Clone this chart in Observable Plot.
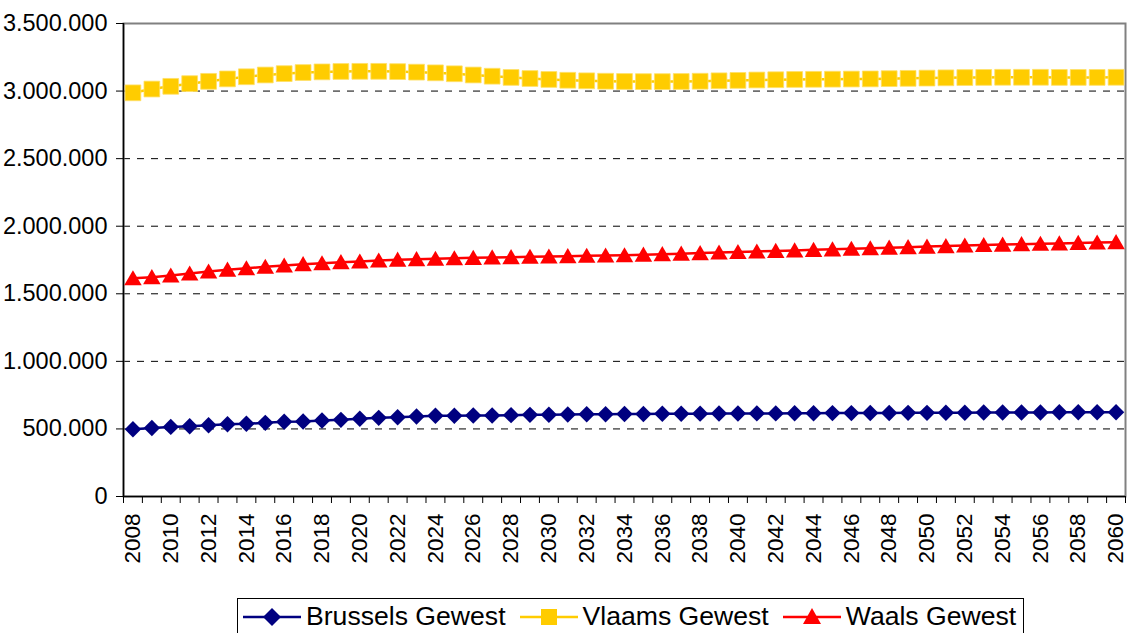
<!DOCTYPE html>
<html><head><meta charset="utf-8">
<script src="https://cdn.jsdelivr.net/npm/d3@7"></script>
<script src="https://cdn.jsdelivr.net/npm/@observablehq/plot@0.6"></script>
<style>
body{margin:0;background:#fff;font-family:"Liberation Sans",Arial,sans-serif;}
#wrap{position:relative;width:1127px;height:633px;overflow:hidden;background:#fff;}
#legend{position:absolute;left:237px;top:598px;width:787px;height:37px;border:1px solid #000;box-sizing:border-box;display:flex;align-items:center;padding-left:5px;font-size:26.6px;color:#000;background:#fff;}
.item{display:flex;align-items:center;margin-right:14px;white-space:nowrap;}
.item svg{margin-right:5px;}
</style></head>
<body><div id="wrap"><div id="chart"></div><div id="legend"></div></div>
<script>
const years = [2008,2009,2010,2011,2012,2013,2014,2015,2016,2017,2018,2019,2020,2021,2022,2023,2024,2025,2026,2027,2028,2029,2030,2031,2032,2033,2034,2035,2036,2037,2038,2039,2040,2041,2042,2043,2044,2045,2046,2047,2048,2049,2050,2051,2052,2053,2054,2055,2056,2057,2058,2059,2060];
const brussels = [497000,507000,515000,520000,527000,535000,538000,545000,553000,555000,562000,567000,575000,582000,587000,592000,597000,597000,599000,600000,602000,604000,605000,607000,608000,609000,611000,611000,612000,612000,613000,614000,614000,615000,615000,616000,616000,617000,617000,618000,618000,619000,619000,620000,620000,621000,621000,622000,622000,623000,623000,624000,624000];
const vlaams = [2987000,3015000,3035000,3055000,3072000,3090000,3106000,3119000,3129000,3137000,3142000,3145000,3146000,3146000,3144000,3140000,3135000,3128000,3119000,3110000,3101000,3093000,3086000,3080000,3076000,3073000,3071000,3070000,3070000,3071000,3073000,3076000,3079000,3082000,3084000,3086000,3087000,3088000,3089000,3090000,3092000,3094000,3096000,3098000,3100000,3101000,3102000,3102000,3102000,3101000,3101000,3101000,3102000];
const waals = [1615000,1623000,1635000,1650000,1665000,1678000,1689000,1700000,1709000,1719000,1726000,1734000,1739000,1746000,1752000,1756000,1759000,1763000,1766000,1769000,1771000,1774000,1776000,1778000,1781000,1783000,1785000,1789000,1793000,1797000,1801000,1805000,1809000,1813000,1817000,1821000,1825000,1829000,1833000,1837000,1841000,1845000,1849000,1853000,1857000,1861000,1864000,1867000,1870000,1873000,1876000,1879000,1882000];
const seriesNames = ["Brussels Gewest","Vlaams Gewest","Waals Gewest"];
const seriesColors = ["#000080","#FFCC00","#FF0000"];
const yTicks = [0,500000,1000000,1500000,2000000,2500000,3000000,3500000];

const fmt = d3.formatLocale({decimal:",",thousands:".",grouping:[3],currency:["€",""]}).format(",d");
const seriesValues = [brussels, vlaams, waals];
const rows = [];
seriesNames.forEach((s, k) => years.forEach((y, i) => rows.push({year: y, series: s, value: seriesValues[k][i]})));
const xMin = years[0] - 0.5, xMax = years[years.length - 1] + 0.5;
const boundaries = years.map(y => y - 0.5).concat([xMax]);
const labelYears = years.filter(y => y % 2 === 0);
const gridValues = yTicks.filter(v => v > 0 && v < yTicks[yTicks.length - 1]);
const of = s => rows.filter(d => d.series === s);

const chart = Plot.plot({
  width: 1127, height: 590,
  marginLeft: 123, marginRight: 2, marginTop: 23, marginBottom: 94,
  style: {fontFamily: "'Liberation Sans', Arial, sans-serif", fontSize: "23px", color: "#000", background: "#fff", overflow: "visible"},
  x: {type: "linear", domain: [xMin, xMax]},
  y: {domain: [0, yTicks[yTicks.length - 1]]},
  color: {domain: seriesNames, range: seriesColors},
  marks: [
    Plot.gridY(gridValues, {stroke: "#000", strokeOpacity: 1, strokeDasharray: "7,7"}),
    Plot.frame({stroke: "#808080", strokeWidth: 2}),
    Plot.ruleX([xMin], {stroke: "#000", strokeWidth: 1.5}),
    Plot.ruleY([0], {stroke: "#000", strokeWidth: 1.5}),
    Plot.axisY(yTicks, {tickSize: 7, tickPadding: 9, tickFormat: fmt, fontSize: 23.5, label: null}),
    Plot.axisX(boundaries, {tickSize: 7, tickFormat: () => "", label: null}),
    Plot.axisX(labelYears, {tickSize: 0, tickPadding: 17, tickRotate: -90, tickFormat: d => String(d), fontSize: 22.5, label: null}),
    Plot.line(rows, {x: "year", y: "value", z: "series", stroke: "series", strokeWidth: 2.5}),
    Plot.dot(of("Brussels Gewest"), {x: "year", y: "value", symbol: "diamond2", r: 7.4, fill: "#000080", stroke: "none"}),
    Plot.dot(of("Vlaams Gewest"), {x: "year", y: "value", symbol: "square", r: 8.9, fill: "#FFCC00", stroke: "#FFE066", strokeWidth: 0.8}),
    Plot.dot(of("Waals Gewest"), {x: "year", y: "value", symbol: "triangle", r: 6.5, dy: 2, fill: "#FF0000", stroke: "none"})
  ]
});
document.getElementById("chart").appendChild(chart);

const swatch = [
  c => `<polygon points="29,1 38,10 29,19 20,10" fill="${c}"/>`,
  c => `<rect x="21" y="2" width="16" height="16" fill="${c}"/>`,
  c => `<polygon points="29,1 38,17 20,17" fill="${c}"/>`
];
const legend = document.getElementById("legend");
seriesNames.forEach((s, k) => {
  const c = seriesColors[k];
  const item = document.createElement("div");
  item.className = "item";
  item.innerHTML = `<svg width="58" height="20"><line x1="0" x2="58" y1="10" y2="10" stroke="${c}" stroke-width="2.5"/>${swatch[k](c)}</svg><span>${s}</span>`;
  legend.appendChild(item);
});
</script>
</body></html>
